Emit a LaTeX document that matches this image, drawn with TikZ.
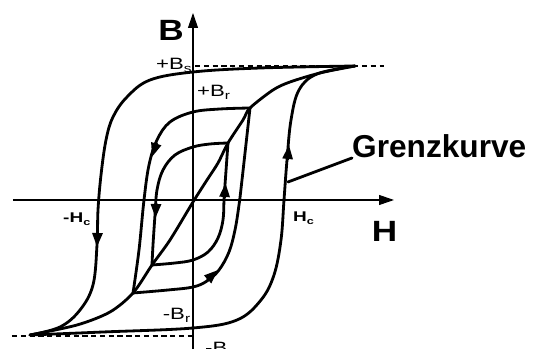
\documentclass[tikz,border=0pt]{standalone}
\usepackage{fontspec}
\setmainfont{Liberation Sans}
\newfontfamily\lblfont[FakeStretch=1.35]{Liberation Sans}
\newfontfamily\axfont[FakeStretch=1.2]{Liberation Sans}
\usetikzlibrary{arrows.meta}

\begin{document}
\begin{tikzpicture}[x=0.03cm,y=0.03cm,
      curve/.style={line width=2.4pt,line join=round,line cap=round},
      axis/.style={line width=0.9pt,-{Triangle[length=4.5mm,width=3mm]}},
      sat/.style={line width=1.6pt,dash pattern=on 4.5pt off 3pt},
      tip/.style={line width=2.4pt,-{Triangle[length=4.2mm,width=3mm]}},
      lbl/.style={font=\lblfont\fontsize{14}{14}\selectfont,inner sep=0pt},
      lblc/.style={font=\lblfont\fontsize{12}{12}\selectfont\bfseries,inner sep=0pt},
      big/.style={font=\axfont\fontsize{25}{25}\selectfont\bfseries,inner sep=0pt}]
    \useasboundingbox (-193,-149) rectangle (341,200);
    \draw[axis] (-180,0) -- (201,0);
    \draw[axis] (0,-149) -- (0,187);
    \draw[sat] (2,134) -- (191,134);
    \draw[sat] (-181,-136) -- (0,-136);
    \draw[curve] plot[smooth,tension=0.6] coordinates {(162,134) (67,132) (0,128) (-43,120)
      (-66,103) (-80,83) (-87,60) (-92,25) (-95,-10) (-96,-45) (-100,-85) (-113,-110)
      (-133,-127) (-163,-135)};
    \draw[curve] plot[smooth,tension=0.6] coordinates {(-163,-135) (-90,-132) (0,-128)
      (44,-120) (68,-100) (81,-75) (88,-40) (91,0) (94,40) (98,80) (106,110) (124,126)
      (162,134)};
    \draw[curve] plot[smooth,tension=0.6] coordinates {(57,92) (27,91) (0,88) (-23,78)
      (-36,60) (-44,35) (-49,0) (-54,-50) (-60,-93)};
    \draw[curve] plot[smooth,tension=0.6] coordinates {(-60,-93) (-25,-90) (0,-87)
      (14,-81) (26,-70) (36,-52) (42,-30) (46,-5) (49,20) (57,92)};
    \draw[curve] plot[smooth,tension=0.6] coordinates {(35,57) (17,56) (0,53) (-18,45)
      (-30,30) (-36,10) (-38,-15) (-40,-45) (-41,-65)};
    \draw[curve] plot[smooth,tension=0.6] coordinates {(-41,-65) (-18,-63) (0,-60)
      (15,-52) (25,-38) (30,-20) (31,0) (32,15) (35,57)};
    \draw[curve] plot[smooth,tension=0.5] coordinates {(-163,-135) (-116,-125) (-83,-112)
      (-60,-93) (-41,-65) (-23,-40) (0,-2) (14,20) (25,37) (35,57) (50,80) (57,92)
      (80,110) (97,118) (127,127) (162,134)};
    \draw[tip] (94.5,40) -- (96,55);
    \draw[tip] (-95.5,-32) -- (-96,-47);
    \draw[tip] (14,-80) -- (25,-70);
    \draw[tip] (-36.4,57.4) -- (-41,43);
    \draw[tip] (31.5,2) -- (32.5,17);
    \draw[tip] (-37,-3) -- (-37.5,-18);
    \node[big] (lB) at (-22,170) {B};
    \node[big] (lH) at (191.5,-31.5) {H};
    \node[lbl,anchor=base east] (bs) at (-0.5,130.5) {+B\textsubscript{s}};
    \node[lbl,anchor=base west] (br) at (4,103) {+B\textsubscript{r}};
    \node[lbl,anchor=base east] (mbr) at (-2,-120) {-B\textsubscript{r}};
    \node[lbl,anchor=base west] (mbs) at (12,-154) {-B\textsubscript{s}};
    \node[lblc,anchor=base west] (mhc) at (-130,-23) {-H\textsubscript{c}};
    \node[lblc,anchor=base west] (hc) at (100,-22) {H\textsubscript{c}};
    \node[font=\fontsize{27}{27}\selectfont\bfseries,inner sep=0pt,anchor=base west] (gk) at (159,42) {Grenzkurve};
    \coordinate (gkpt) at (95,18);
    \draw[curve] (gk.base west) -- (gkpt);
  \end{tikzpicture}
\end{document}
